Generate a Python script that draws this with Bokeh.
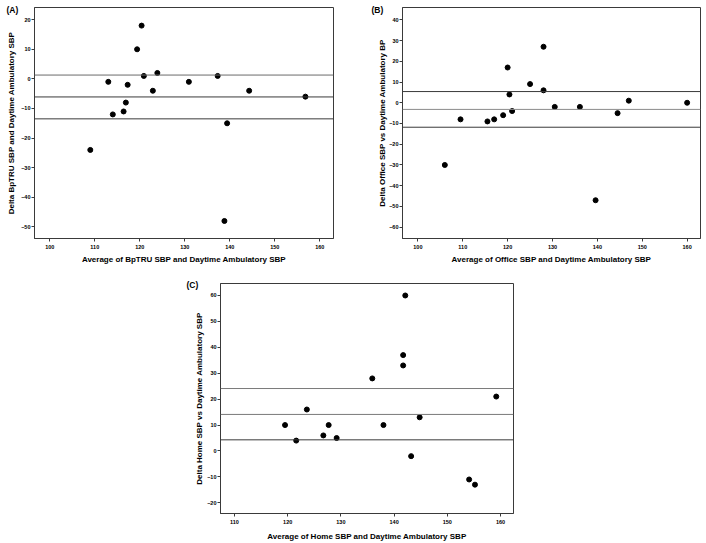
from bokeh.plotting import figure
from bokeh.models import Range1d, FixedTicker, Span, Spacer
from bokeh.layouts import row, column
from bokeh.embed import file_html
from bokeh.resources import INLINE

FONT = "Liberation Sans"

# ---------------- data ----------------
# Panel A: BpTRU vs daytime ambulatory
a_avg = [109, 113, 114, 116.4, 116.9, 117.3, 119.4, 120.4, 120.9, 122.9, 123.9,
         130.9, 137.3, 138.8, 139.4, 144.3, 156.8]
a_delta = [-24, -1, -12, -11, -8, -2, 10, 18, 1, -4, 2, -1, 1, -48, -15, -4, -6]
a_lines = [1.3, -6.1, -13.5]
a_xticks = [100, 110, 120, 130, 140, 150, 160]
a_yticks = [20, 10, 0, -10, -20, -30, -40, -50]

# Panel B: Office vs daytime ambulatory
b_avg = [106, 109.5, 115.5, 117, 119, 120, 120.4, 121, 125, 128, 128, 130.5,
         136.1, 139.6, 144.5, 147, 160]
b_delta = [-30, -8, -9, -8, -6, 17, 4, -4, 9, 27, 6, -2, -2, -47, -5, 1, 0]
b_lines = [5.4, -3.2, -11.8]
b_xticks = [100, 110, 120, 130, 140, 150, 160]
b_yticks = [40, 30, 20, 10, 0, -10, -20, -30, -40, -50, -60]

# Panel C: Home vs daytime ambulatory
c_avg = [119.5, 121.6, 123.6, 126.7, 127.7, 129.2, 135.9, 138.0, 141.7, 141.7,
         142.1, 143.2, 144.8, 154.1, 155.2, 159.2]
c_delta = [10, 4, 16, 6, 10, 5, 28, 10, 37, 33, 60, -2, 13, -11, -13, 21]
c_lines = [24.1, 14.1, 4.3]
c_xticks = [110, 120, 130, 140, 150, 160]
c_yticks = [60, 50, 40, 30, 20, 10, 0, -10, -20]


def panel(tag, xs, ys, lines, line_colors, xticks, yticks, xr, yr, xlabel, ylabel,
          width, height, mb, ylab_standoff, xlab_standoff, tag_dx, tag_standoff):
    p = figure(width=width, height=height, output_backend="svg", toolbar_location=None,
               x_range=Range1d(*xr), y_range=Range1d(*yr),
               min_border_left=mb[0], min_border_right=mb[1],
               min_border_top=mb[2], min_border_bottom=mb[3])
    p.background_fill_color = "white"
    p.border_fill_color = "white"
    p.grid.visible = False
    p.outline_line_color = "#3a3a3a"
    p.outline_line_width = 1
    p.outline_line_alpha = 1

    # panel tag "(A)" etc. as the figure title, pulled to the left of the frame
    p.title.text = tag
    p.title.align = "left"
    p.title.offset = tag_dx
    p.title.standoff = tag_standoff
    p.title.text_font = FONT
    p.title.text_font_size = "8.5px"
    p.title.text_font_style = "bold"
    p.title.text_color = "black"

    for ax in (p.xaxis[0], p.yaxis[0]):
        ax.axis_line_color = "#3a3a3a"
        ax.major_tick_line_color = "#3a3a3a"
        ax.major_tick_out = 3
        ax.major_tick_in = 0
        ax.minor_tick_line_color = None
        ax.major_label_text_font = FONT
        ax.major_label_text_font_size = "5.5px"
        ax.major_label_text_font_style = "bold"
        ax.major_label_text_color = "black"
        ax.axis_label_text_font = FONT
        ax.axis_label_text_font_size = "8px"
        ax.axis_label_text_font_style = "bold"
        ax.axis_label_text_color = "black"

    p.xaxis.ticker = FixedTicker(ticks=xticks)
    p.yaxis.ticker = FixedTicker(ticks=yticks)
    p.xaxis.axis_label = xlabel
    p.yaxis.axis_label = ylabel
    p.xaxis.major_label_standoff = 3
    p.yaxis.major_label_standoff = 1
    p.xaxis.axis_label_standoff = xlab_standoff
    p.yaxis.axis_label_standoff = ylab_standoff

    for v, c in zip(lines, line_colors):
        p.add_layout(Span(location=v, dimension="width", line_color=c, line_width=1))

    p.scatter(xs, ys, size=5, fill_color="black", line_color="black")
    return p


pA = panel("(A)", a_avg, a_delta, a_lines, ["#6a6a6a", "#3a3a3a", "#3a3a3a"],
           a_xticks, a_yticks, (96.6, 163.04), (-53.92, 24.12),
           "Average of BpTRU SBP and Daytime Ambulatory SBP",
           "Delta BpTRU SBP and Daytime Ambulatory SBP",
           353, 268, (34, 20, 7, 28), 2, 3, -28, -14)

pB = panel("(B)", b_avg, b_delta, b_lines, ["#3a3a3a", "#8a8a8a", "#3a3a3a"],
           b_xticks, b_yticks, (96.57, 162.98), (-65.45, 45.93),
           "Average of Office SBP and Daytime Ambulatory SBP",
           "Delta Office SBP vs Daytime Ambulatory BP",
           353, 268, (49, 6, 7, 30), -1, 3, -31, -14)

pC = panel("(C)", c_avg, c_delta, c_lines, ["#7a7a7a", "#7a7a7a", "#3a3a3a"],
           c_xticks, c_yticks, (107.37, 162.44), (-24.13, 64.63),
           "Average of Home SBP and Daytime Ambulatory SBP",
           "Delta Home SBP vs Daytime Ambulatory SBP",
           350, 275, (47, 10, 15, 30), 0, 5, -34, -12)

layout = column(row(pA, pB), row(Spacer(width=173, height=275), pC))

open("out.html", "w").write(file_html(layout, INLINE))
